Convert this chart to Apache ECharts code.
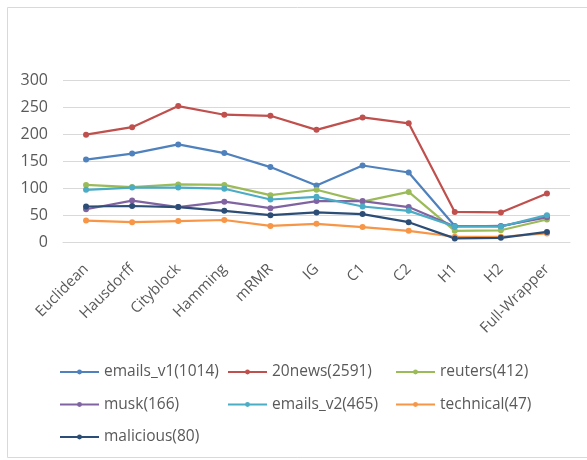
<!DOCTYPE html>
<html>
<head>
<meta charset="utf-8">
<script src="https://cdn.jsdelivr.net/npm/echarts@6/dist/echarts.min.js"></script>
<style>html,body{margin:0;padding:0;background:#fff}#c{width:587px;height:460px}</style>
</head>
<body>
<div id="c"></div>
<script>
const categories = ['Euclidean','Hausdorff','Cityblock','Hamming','mRMR','IG','C1','C2','H1','H2','Full-Wrapper'];
const seriesNames = ['emails_v1(1014)','20news(2591)','reuters(412)','musk(166)','emails_v2(465)','technical(47)','malicious(80)'];
const emails_v1 = [154,165,182,166,140,106,143,130,31,30,49];
const news20 = [200,214,253,237,235,209,232,221,57,56,91];
const reuters = [107,103,108,107,88,98,76,94,22,23,43];
const musk = [62,78,66,76,64,77,77,66,30,31,47];
const emails_v2 = [98,102,102,100,80,85,67,59,30,30,51];
const technical = [41,38,40,42,31,35,29,22,11,11,17];
const malicious = [67,68,66,59,51,56,53,38,8,9,20];
const yTicks = [0,50,100,150,200,250,300];

const dataList = [emails_v1, news20, reuters, musk, emails_v2, technical, malicious];
const colors = ['#4F81BD','#C0504D','#9BBB59','#8064A2','#4BACC6','#F79646','#2C4D75'];

const chart = echarts.init(document.getElementById('c'));
const legendBase = {
  orient: 'vertical', top: 359, itemGap: 16.5, itemWidth: 39, itemHeight: 6,
  textStyle: {color: '#595959', fontSize: 15.5, fontFamily: 'Open Sans', lineHeight: 16}
};
chart.setOption({
  animation: false,
  color: colors,
  graphic: [{type: 'rect', shape: {x: 7.5, y: 7.5, width: 600, height: 450}, style: {fill: 'none', stroke: '#D9D9D9', lineWidth: 1}, silent: true}],
  grid: {left: 63, right: 17, top: 80.7, bottom: 217.3},
  legend: [
    Object.assign({}, legendBase, {left: 54, data: [seriesNames[0], seriesNames[3], seriesNames[6]]}),
    Object.assign({}, legendBase, {left: 222, data: [seriesNames[1], seriesNames[4]]}),
    Object.assign({}, legendBase, {left: 390, data: [seriesNames[2], seriesNames[5]]})
  ],
  xAxis: {
    type: 'category', data: categories, boundaryGap: true,
    axisLine: {lineStyle: {color: '#D9D9D9'}},
    axisTick: {show: false},
    axisLabel: {rotate: 45, color: '#595959', fontSize: 15, fontFamily: 'Open Sans', margin: 24, interval: 0}
  },
  yAxis: {
    type: 'value', min: yTicks[0], max: yTicks[yTicks.length - 1], interval: 50,
    axisLine: {show: false}, axisTick: {show: false},
    splitLine: {lineStyle: {color: '#D9D9D9'}},
    axisLabel: {color: '#595959', fontSize: 16, fontFamily: 'Open Sans', margin: 15}
  },
  series: dataList.map((d, i) => ({
    name: seriesNames[i], type: 'line', data: d,
    symbol: 'circle', symbolSize: 6,
    lineStyle: {width: 2.2, color: colors[i]},
    itemStyle: {color: colors[i]}
  }))
});
</script>
</body>
</html>
